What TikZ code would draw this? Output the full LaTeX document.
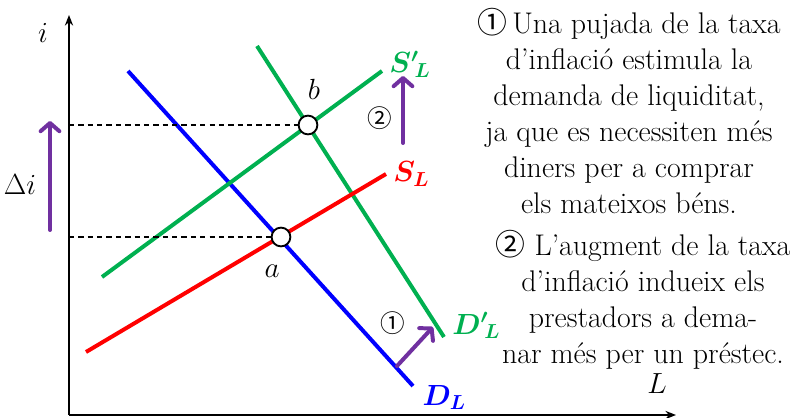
\documentclass[tikz,border=0pt]{standalone}
\usepackage{fontspec}
\usepackage{tikz}
\usetikzlibrary{arrows.meta, positioning}
\newfontfamily\circfont{Noto Sans CJK JP}
\definecolor{myblue}{RGB}{0,0,255}
\definecolor{myred}{RGB}{255,0,0}
\definecolor{mygreen}{RGB}{0,176,80}
\definecolor{mypurple}{RGB}{112,48,160}
\tikzset{
  axisline/.style={line width=1.7pt, -{Stealth[length=9pt,width=7pt]}},
  mkline/.style={line width=3.4pt},
  dashguide/.style={line width=1pt, dash pattern=on 4.5pt off 3.5pt},
  shiftarrow/.style={line width=3.4pt, color=mypurple, line cap=round,
    -{Straight Barb[length=7pt,width=16pt,round]}},
  eqpt/.style={circle, draw, fill=white, line width=1.6pt,
    minimum size=16pt, inner sep=0pt},
  lbl/.style={font=\fontsize{24}{28}\selectfont},
  curvelbl/.style={font=\fontsize{24}{28}\selectfont\boldmath, inner sep=1pt},
  notebox/.style={align=center, font=\fontsize{25.5}{30.6}\selectfont},
  circnum/.style={font=\fontsize{21}{24}\selectfont\circfont}
}

\begin{document}
\begin{tikzpicture}[x=0.03cm, y=-0.03cm]
  \useasboundingbox (0,0) rectangle (800,418);

  % Axes
  \coordinate (O) at (69,415);
  \coordinate (ytop) at (69,15);
  \coordinate (xend) at (676,415);
  \draw[axisline] (O) -- (ytop);
  \draw[axisline] (O) -- (xend);
  \node[lbl] (ilbl) at (43,33) {$i$};
  \node[lbl] (Llbl) at (657,384) {$L$};

  % --- Demand curves ---
  \coordinate (dl1) at (128,71);  \coordinate (dl2) at (413,386);
  \coordinate (dp1) at (257,46);  \coordinate (dp2) at (444,337);
  \draw[mkline, myblue] (dl1) -- (dl2);
  \draw[mkline, mygreen] (dp1) -- (dp2);

  % --- Supply curves ---
  \coordinate (sl1) at (86,352);  \coordinate (sl2) at (386,174);
  \coordinate (sp1) at (102,277); \coordinate (sp2) at (382,71);
  \draw[mkline, myred] (sl1) -- (sl2);
  \draw[mkline, mygreen] (sp1) -- (sp2);

  % Curve labels
  \node[curvelbl, myblue, below right=-2pt and 7pt of dl2] (DLlbl) {$D_{L}$};
  \node[curvelbl, mygreen, right=6pt of dp2, yshift=10pt] (DPlbl) {${D'}_{\!L}$};
  \node[curvelbl, myred, right=5pt of sl2] (SLlbl) {$S_{L}$};
  \node[curvelbl, mygreen, right=5pt of sp2, yshift=6pt] (SPlbl) {${S'}_{\!L}$};

  % Equilibria
  \coordinate (ya) at (69,237);
  \coordinate (yb) at (69,125);
  \node[eqpt] (a) at (281,237) {};
  \node[eqpt] (b) at (308,125) {};
  \draw[dashguide] (ya) -- (a);
  \draw[dashguide] (yb) -- (b);
  \node[lbl] (albl) at (272,271) {$a$};
  \node[lbl] (blbl) at (314,89) {$b$};

  % Shifts
  \coordinate (di1) at (50,230);  \coordinate (di2) at (50,121);
  \coordinate (s1) at (403,143);  \coordinate (s2) at (403,76);
  \coordinate (d1) at (397,366);  \coordinate (d2) at (433,327);
  \draw[shiftarrow] (di1) -- (di2);
  \draw[shiftarrow] (s1) -- (s2);
  \draw[shiftarrow] (d1) -- (d2);
  \node[lbl] (dilbl) at (20,185) {$\Delta i$};
  \node[circnum] (n2) at (380,118) {②};
  \node[circnum] (n1) at (393,323) {①};

  % Notes
  \node[notebox] (note1) at (629,111) {{\circfont ①}\,Una pujada de la taxa\\
    d’inflació estimula la\\ demanda de liquiditat,\\ ja que es necessiten més\\
    diners per a comprar\\ els mateixos béns.};
  \node[notebox] (note2) at (643,300) {{\circfont ②} L’augment de la taxa\\
    d’inflació indueix els\\ prestadors a dema-\\ nar més per un préstec.};
\end{tikzpicture}
\end{document}
